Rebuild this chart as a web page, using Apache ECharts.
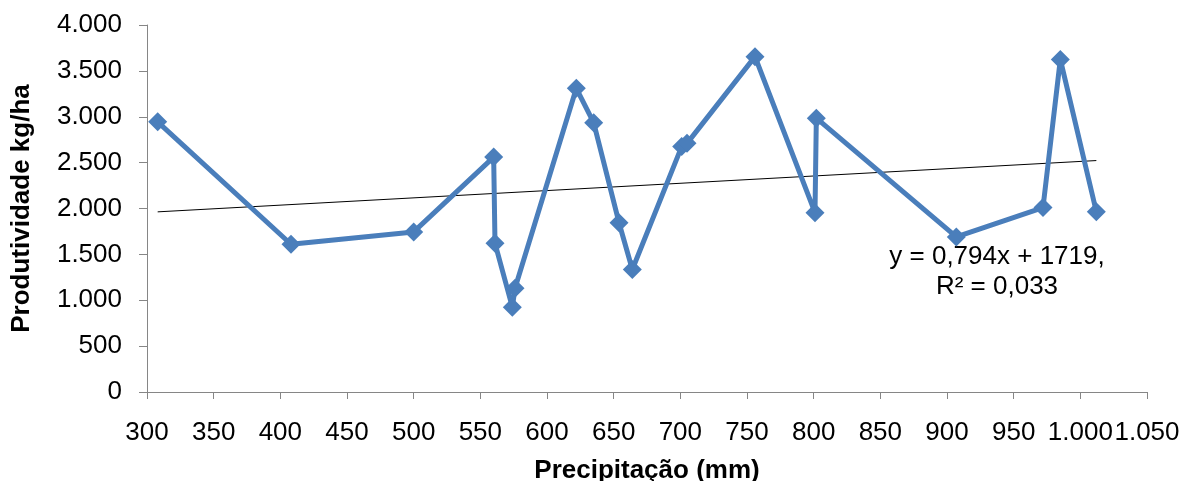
<!DOCTYPE html>
<html>
<head>
<meta charset="utf-8">
<script src="https://cdn.jsdelivr.net/npm/echarts@6/dist/echarts.min.js"></script>
<style>
  html, body { margin: 0; padding: 0; background: #fff; }
  #chart { width: 1183px; height: 481px; }
</style>
</head>
<body>
<div id="chart"></div>
<script>
// precipitação (mm) e produtividade (kg/ha), na ordem da linha
var precip = [308, 408, 500, 560, 561, 574, 576, 622, 635, 654, 664, 701, 705, 756, 801, 802, 907, 972, 985, 1012];
var produt = [2945, 1610, 1745, 2560, 1620, 925, 1130, 3310, 2935, 1845, 1335, 2675, 2710, 3655, 1955, 2985, 1690, 2010, 3625, 1965];

// linha de tendência (do rótulo)
var slope = 0.794;
var intercept = 1719;
var eqText = ['y = 0,794x + 1719,', 'R² = 0,033'];

var xTicks = { min: 300, max: 1050, step: 50 };
var yTicks = { min: 0, max: 4000, step: 500 };

var fonte = 'Liberation Sans, Arial, sans-serif';

function fmt(v) {
    var s = String(Math.round(v));
    return s.replace(/\B(?=(\d{3})+(?!\d))/g, '.');
}

var pontos = precip.map(function (x, i) { return [x, produt[i]]; });
var x0 = precip[0], x1 = precip[precip.length - 1];
var tendencia = [[x0, slope * x0 + intercept], [x1, slope * x1 + intercept]];

var chart = echarts.init(document.getElementById('chart'));

var option = {
    backgroundColor: '#fff',
    animation: false,
    grid: { left: 147, right: 36, top: 25, bottom: 89, outerBoundsMode: 'none', containLabel: false },
    xAxis: {
        type: 'value',
        min: xTicks.min,
        max: xTicks.max,
        interval: xTicks.step,
        name: 'Precipitação (mm)',
        nameLocation: 'middle',
        nameGap: 66,
        nameTextStyle: { fontFamily: fonte, fontSize: 26, fontWeight: 'bold', color: '#000' },
        axisLine: { lineStyle: { color: '#868686', width: 1 } },
        axisTick: { show: true, length: 7, lineStyle: { color: '#868686' } },
        axisLabel: { formatter: fmt, fontFamily: fonte, fontSize: 26, color: '#000', margin: 28, hideOverlap: false, showMinLabel: true, showMaxLabel: true },
        splitLine: { show: false }
    },
    yAxis: {
        type: 'value',
        min: yTicks.min,
        max: yTicks.max,
        interval: yTicks.step,
        name: 'Produtividade kg/ha',
        nameLocation: 'middle',
        nameRotate: 90,
        nameGap: 112,
        nameTextStyle: { fontFamily: fonte, fontSize: 26, fontWeight: 'bold', color: '#000' },
        axisLine: { show: true, lineStyle: { color: '#868686', width: 1 } },
        axisTick: { show: true, length: 8, lineStyle: { color: '#868686' } },
        axisLabel: { formatter: fmt, fontFamily: fonte, fontSize: 26, color: '#000', margin: 25 },
        splitLine: { show: false }
    },
    series: [
        {
            type: 'line',
            data: tendencia,
            symbol: 'none',
            lineStyle: { color: '#000', width: 1 },
            z: 1,
            silent: true
        },
        {
            type: 'line',
            data: pontos,
            symbol: 'diamond',
            symbolSize: 19,
            itemStyle: { color: '#4A7EBB' },
            lineStyle: { color: '#4A7EBB', width: 5 },
            z: 2
        }
    ],
    graphic: [
        {
            type: 'text',
            x: 997,
            y: 242,
            style: {
                text: eqText.join('\n'),
                fontFamily: fonte,
                fontSize: 26,
                lineHeight: 30,
                fill: '#000',
                align: 'center',
                verticalAlign: 'top'
            }
        }
    ]
};

chart.setOption(option);
</script>
</body>
</html>
